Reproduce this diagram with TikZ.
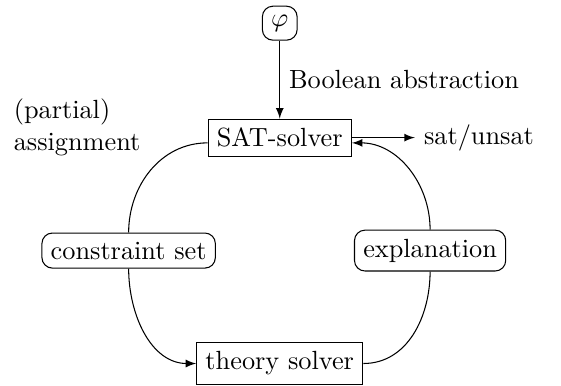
\documentclass[tikz,border=0pt]{standalone}
\usetikzlibrary{positioning}
\begin{document}
\begin{tikzpicture}[>=latex,
  box/.style={draw},
  rbox/.style={draw, rounded corners}]
  \useasboundingbox (0,0) rectangle (7.50,-5.15);
  % solver loop
  \node[rbox] (phi) at (3.74,-0.31) {$\varphi$};
  \node[box] (sat) at (3.74,-1.84) {SAT-solver};
  \node[rbox] (cs) at (1.72,-3.35) {constraint set};
  \node[rbox] (expl) at (5.75,-3.35) {explanation};
  \node[box] (theory) at (3.74,-4.86) {theory solver};
  \node[right=0.84cm of sat] (result) {sat/unsat};
  \node[align=left, anchor=west] (assign) at (0.06,-1.70) {(partial)\\assignment};
  \draw[->] (phi) -- node[right] {Boolean abstraction} (sat);
  \draw[->] (sat) -- (result);
  \draw ([yshift=-2pt]sat.west) to[out=180, in=90] (cs.north);
  \draw[->] (cs.south) to[out=270, in=180] (theory.west);
  \draw (theory.east) to[out=0, in=270] (expl.south);
  \draw[->] (expl.north) to[out=90, in=0] ([yshift=-2pt]sat.east);
\end{tikzpicture}
\end{document}
